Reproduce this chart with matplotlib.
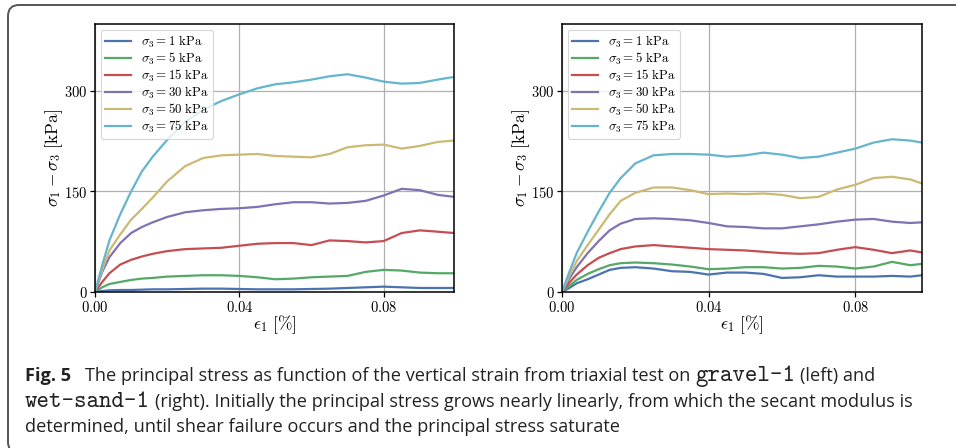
import matplotlib
matplotlib.use("Agg")
import matplotlib.pyplot as plt
from matplotlib.patches import FancyBboxPatch
from matplotlib.transforms import IdentityTransform

plt.rcParams['mathtext.fontset'] = 'cm'
plt.rcParams['font.family'] = ['DejaVu Sans']

# ---------------- data ----------------
eps_left = [0, 0.002, 0.004, 0.007, 0.010, 0.013, 0.016, 0.020, 0.025, 0.030,
            0.035, 0.040, 0.045, 0.050, 0.055, 0.060, 0.065, 0.070, 0.075,
            0.080, 0.085, 0.090, 0.095, 0.0995]
left_1kPa = [0, 1.5, 2.5, 3, 3, 3.5, 4, 4, 4.5, 5, 5, 4.5, 4, 4, 4, 4.5, 5, 6, 7,
             8, 7, 6, 6, 6]
left_5kPa = [0, 7, 12, 15, 18, 20, 21, 23, 24, 25, 25, 24, 22, 19, 20, 22, 23, 24,
             30, 33, 32, 29, 28, 28]
left_15kPa = [0, 15, 28, 41, 48, 53, 57, 61, 64, 65, 66, 69, 72, 73, 73, 70, 77, 76,
              74, 76, 88, 92, 90, 88]
left_30kPa = [0, 30, 52, 73, 88, 97, 104, 112, 119, 122, 124, 125, 127, 131, 134,
              134, 132, 133, 136, 144, 154, 152, 145, 142]
left_50kPa = [0, 33, 62, 86, 108, 124, 141, 165, 188, 200, 204, 205, 206, 203, 202,
              201, 206, 216, 219, 220, 214, 218, 224, 226]
left_75kPa = [0, 40, 77, 116, 150, 180, 202, 227, 254, 272, 285, 295, 304, 310, 313,
              317, 322, 325, 320, 314, 311, 312, 317, 321]

eps_right = [0, 0.002, 0.004, 0.007, 0.010, 0.013, 0.016, 0.020, 0.025, 0.030,
             0.035, 0.040, 0.045, 0.050, 0.055, 0.060, 0.065, 0.070, 0.075,
             0.080, 0.085, 0.090, 0.095, 0.0982]
right_1kPa = [0, 6, 13, 19, 26, 33, 36, 37, 35, 31, 30, 26, 29, 29, 27, 21, 22, 25,
              23, 23, 23, 24, 23, 25]
right_5kPa = [0, 9, 18, 27, 34, 40, 43, 44, 43, 41, 38, 34, 35, 37, 37, 35, 36, 39,
              38, 35, 38, 45, 40, 42]
right_15kPa = [0, 14, 26, 40, 51, 58, 64, 68, 70, 68, 66, 64, 63, 62, 60, 58, 57, 58,
               63, 67, 63, 58, 62, 59]
right_30kPa = [0, 20, 37, 58, 76, 92, 102, 109, 110, 109, 107, 103, 98, 97, 95, 95,
               98, 101, 105, 108, 109, 105, 103, 104]
right_50kPa = [0, 24, 46, 70, 93, 116, 136, 148, 156, 156, 152, 146, 147, 146, 147,
               145, 140, 142, 153, 160, 170, 172, 168, 162]
right_75kPa = [0, 30, 58, 90, 120, 148, 170, 192, 204, 206, 206, 205, 202, 204, 208,
               205, 200, 202, 208, 214, 223, 228, 226, 223]

series_labels = [r'$\sigma_3 = 1\ \mathrm{kPa}$', r'$\sigma_3 = 5\ \mathrm{kPa}$',
                 r'$\sigma_3 = 15\ \mathrm{kPa}$', r'$\sigma_3 = 30\ \mathrm{kPa}$',
                 r'$\sigma_3 = 50\ \mathrm{kPa}$', r'$\sigma_3 = 75\ \mathrm{kPa}$']
xtick_values = [0.0, 0.04, 0.08]
xtick_labels = [r'$0.00$', r'$0.04$', r'$0.08$']
ytick_values = [0, 150, 300]
ytick_labels = [r'$0$', r'$150$', r'$300$']
xlabel = r'$\epsilon_1\ [\%]$'
ylabel = r'$\sigma_1 - \sigma_3\ [\mathrm{kPa}]$'

colors = ['#4C72B0', '#55A868', '#C44E52', '#8172B2', '#CCB974', '#64B5CD']

# ---------------- figure ----------------
W, H = 956, 448
fig = plt.figure(figsize=(W / 100, H / 100), dpi=100)
fig.patch.set_facecolor('white')

axL = fig.add_axes([95 / W, 1 - 292 / H, 359 / W, 268 / H])
axR = fig.add_axes([562 / W, 1 - 292 / H, 360 / W, 268 / H])

panels = [
    (axL, eps_left, [left_1kPa, left_5kPa, left_15kPa, left_30kPa, left_50kPa, left_75kPa]),
    (axR, eps_right, [right_1kPa, right_5kPa, right_15kPa, right_30kPa, right_50kPa, right_75kPa]),
]

for ax, eps, series in panels:
    for vals, lab, c in zip(series, series_labels, colors):
        ax.plot(eps, vals, color=c, lw=1.6, label=lab, solid_joinstyle='round')
    ax.set_xlim(0, eps[-1])
    ax.set_ylim(0, 400)
    ax.set_xticks(xtick_values)
    ax.set_xticklabels(xtick_labels)
    ax.set_yticks(ytick_values)
    ax.set_yticklabels(ytick_labels)
    ax.grid(True, color='#b0b0b0', lw=0.9)
    ax.set_axisbelow(True)
    for s in ax.spines.values():
        s.set_color('black')
        s.set_linewidth(1.1)
    ax.tick_params(direction='out', length=3.5, width=0.9, labelsize=10.5, pad=2,
                   colors='black')
    ax.set_xlabel(xlabel, fontsize=12.5, labelpad=-1)
    ax.set_ylabel(ylabel, fontsize=12.5, labelpad=-1)
    leg = ax.legend(loc='upper left', fontsize=9.3, frameon=True, fancybox=True,
                    framealpha=0.8, edgecolor='#cccccc', borderaxespad=0.45,
                    handlelength=2.0, labelspacing=0.06, borderpad=0.3,
                    handletextpad=0.8)
    leg.get_frame().set_linewidth(0.8)

# ---------------- rounded border ----------------
border = FancyBboxPatch((0.08, -0.05), 9.9, 4.43 + 0.05,
                        boxstyle="round,pad=0,rounding_size=0.11",
                        transform=fig.dpi_scale_trans, facecolor='none',
                        edgecolor='#555555', lw=1.4, clip_on=False)
fig.add_artist(border)

# ---------------- caption ----------------
renderer = fig.canvas.get_renderer()
reg_font = 'Open Sans'
mono_font = 'cmtt10'


def text_width(s, **kw):
    t = fig.text(0, 0, s, transform=IdentityTransform(), **kw)
    w = t.get_window_extent(renderer).width
    t.remove()
    return w


# fit sizes to the measured widths in the reference
reg_probe = "(right). Initially the principal stress grows nearly linearly, from which the secant modulus is"
reg_size = 12 * 758 / text_width(reg_probe, fontsize=12, family=reg_font)
mono_size = 12 * 125 / text_width("wet-sand-1", fontsize=12, family=mono_font)
space_w = (text_width("a a", fontsize=reg_size, family=reg_font)
           - text_width("aa", fontsize=reg_size, family=reg_font))

lines = [
    (381, [("Fig. 5", dict(family=reg_font, weight='bold')), 14,
           ("The principal stress as function of the vertical strain from triaxial test on", dict(family=reg_font)), 's',
           ("gravel-1", dict(family=mono_font, size=mono_size)), 's',
           ("(left) and", dict(family=reg_font))]),
    (406.5, [("wet-sand-1", dict(family=mono_font, size=mono_size)), 's',
             (reg_probe, dict(family=reg_font))]),
    (431.5, [("determined, until shear failure occurs and the principal stress saturate", dict(family=reg_font))]),
]

for base_y, pieces in lines:
    x = 25
    for p in pieces:
        if p == 's':
            x += space_w
            continue
        if isinstance(p, (int, float)):
            x += p
            continue
        s, kw = p
        kw = dict(kw)
        size = kw.pop('size', reg_size)
        t = fig.text(x, H - base_y, s, transform=IdentityTransform(), fontsize=size,
                     va='baseline', ha='left', color='#222222', **kw)
        x += t.get_window_extent(renderer).width

fig.savefig('out.png', dpi=100)
